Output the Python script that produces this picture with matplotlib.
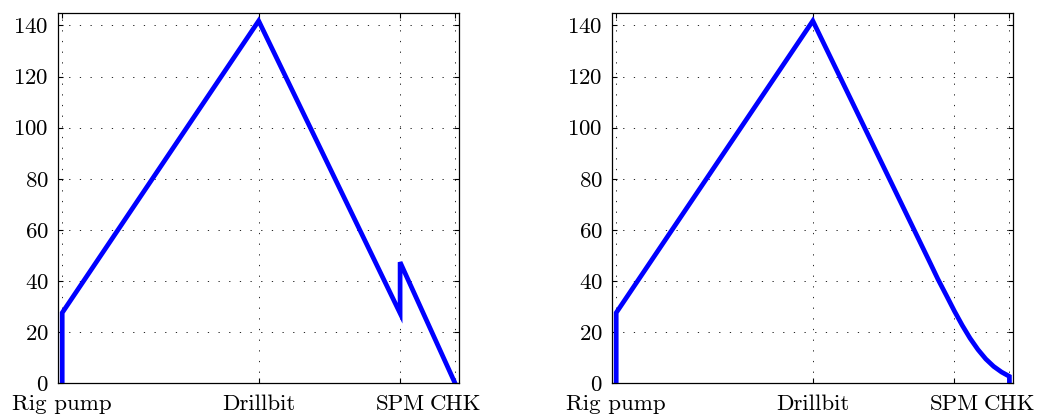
import numpy as np
import matplotlib
matplotlib.use("Agg")
import matplotlib.pyplot as plt

plt.rcParams['font.family'] = ['cmr10', 'DejaVu Serif']
plt.rcParams['axes.formatter.use_mathtext'] = True
plt.rcParams['font.size'] = 16.5

# stations along the flow path (distance units)
station_names = ['Rig pump', 'Drillbit', 'SPM', 'CHK']
station_pos = [0, 1000, 1720, 2000]

# pressure profile with a step at the SPM
pos_a = [0, 0, 1000, 1720, 1720, 2000]
press_a = [0, 27.6, 141.8, 27.4, 47.4, 0]

# pressure profile with a smooth drop towards the choke
pos_b = [0, 0, 1000, 1300, 1600, 1636, 1680, 1720, 1760, 1800, 1840, 1880, 1920, 1960, 2000, 2000]
press_b = [0, 27.6, 141.8, 94.2, 46.6, 40.8, 34.3, 28.3, 22.7, 17.6, 13.2, 9.5, 6.6, 4.4, 2.7, 0]

fig = plt.figure(figsize=(10.39, 4.18), dpi=100)
ax1 = fig.add_axes([0.0561, 0.083, 0.3857, 0.8866])
ax2 = fig.add_axes([0.5893, 0.083, 0.3860, 0.8866])

for ax, xs, ys in [(ax1, pos_a, press_a), (ax2, pos_b, press_b)]:
    ax.plot(xs, ys, color='#0000ff', lw=3.4, solid_joinstyle='miter')
    ax.set_xlim(-20, 2020)
    ax.set_ylim(0, 145)
    ax.set_xticks(station_pos)
    ax.set_xticklabels(station_names)
    ax.set_yticks(np.arange(0, 141, 20))
    ax.tick_params(direction='in', top=True, right=True, length=3.5, width=0.8)
    ax.tick_params(axis='x', pad=8)
    ax.tick_params(axis='y', pad=7)
    ax.grid(True, color='black', lw=0.6, ls=(0, (1.5, 11.3)))
    for s in ax.spines.values():
        s.set_linewidth(0.9)

fig.savefig('out.png', dpi=100)
